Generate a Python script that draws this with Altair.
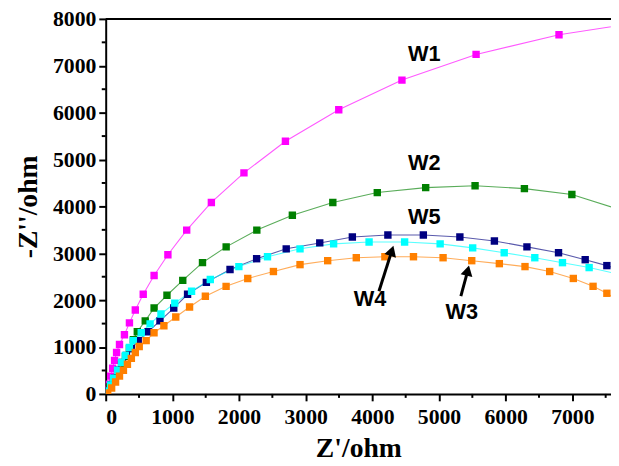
import altair as alt
import pandas as pd

# ---- data (Z' / ohm, -Z'' / ohm) ----
w1_x = [15, 44, 74, 104, 133, 163, 207, 281, 356, 444, 563, 726, 933, 1215, 1585, 2074, 2696, 3496, 4444, 5556, 6800, 7900]
w1_y = [84, 210, 379, 547, 716, 884, 1053, 1263, 1516, 1789, 2126, 2526, 2968, 3495, 4084, 4716, 5389, 6063, 6695, 7242, 7663, 7900]

w2_x = [15, 59, 119, 178, 237, 296, 356, 415, 474, 593, 726, 919, 1156, 1452, 1807, 2267, 2800, 3407, 4074, 4800, 5541, 6281, 6993, 7650]
w2_y = [42, 147, 295, 463, 632, 800, 968, 1158, 1326, 1558, 1832, 2105, 2421, 2800, 3137, 3495, 3811, 4084, 4295, 4400, 4442, 4379, 4253, 3960]

w5_x = [15, 74, 133, 192, 252, 311, 385, 488, 636, 814, 1021, 1228, 1510, 1865, 2264, 2708, 3211, 3700, 4233, 4765, 5313, 5831, 6319, 6793, 7193, 7518, 7800]
w5_y = [63, 189, 337, 505, 674, 821, 968, 1137, 1326, 1558, 1832, 2126, 2379, 2653, 2884, 3095, 3221, 3347, 3389, 3389, 3347, 3263, 3137, 3011, 2863, 2737, 2600]

w4_x = [15, 74, 118, 178, 237, 296, 355, 414, 533, 666, 829, 1036, 1288, 1569, 1998, 2427, 2915, 3419, 3951, 4484, 5017, 5505, 5978, 6437, 6852, 7252, 7640]
w4_y = [63, 189, 337, 505, 674, 821, 989, 1137, 1305, 1495, 1705, 1937, 2189, 2442, 2716, 2926, 3095, 3200, 3242, 3242, 3200, 3116, 3011, 2905, 2800, 2695, 2570]

w3_x = [30, 89, 148, 207, 266, 326, 385, 444, 503, 607, 725, 873, 1051, 1258, 1495, 1806, 2131, 2516, 2915, 3330, 3759, 4188, 4617, 5061, 5491, 5905, 6290, 6660, 7015, 7311, 7518, 7700]
w3_y = [21, 126, 253, 379, 505, 632, 758, 884, 1011, 1137, 1305, 1453, 1642, 1853, 2084, 2295, 2463, 2611, 2758, 2842, 2905, 2926, 2926, 2905, 2842, 2779, 2716, 2611, 2463, 2295, 2147, 1980]

series = ["W1", "W2", "W5", "W4", "W3"]
colors = ["#FF00FF", "#008000", "#000080", "#00FFFF", "#FF8000"]
xs = [w1_x, w2_x, w5_x, w4_x, w3_x]
ys = [w1_y, w2_y, w5_y, w4_y, w3_y]

# annotation labels (data coordinates)
label_text = ["W1", "W2", "W5", "W4", "W3"]
label_x = [4780, 4780, 4780, 3966, 5342]
label_y = [7242, 4926, 3768, 2021, 1747]

# arrows: tail -> head (data coordinates), head angle in degrees
arrow_x = [4099, 5328]
arrow_y = [2189, 2084]
arrow_x2 = [4292, 5431]
arrow_y2 = [3053, 2632]
arrow_angle = [18, 14]

x_major = [0, 1000, 2000, 3000, 4000, 5000, 6000, 7000]
x_minor = [500, 1500, 2500, 3500, 4500, 5500, 6500, 7500]
y_major = [0, 1000, 2000, 3000, 4000, 5000, 6000, 7000, 8000]
y_minor = [500, 1500, 2500, 3500, 4500, 5500, 6500, 7500]

rows = []
for s, xv, yv in zip(series, xs, ys):
    for i, (a, b) in enumerate(zip(xv, yv)):
        rows.append({"series": s, "i": i, "x": a, "y": b})
df = pd.DataFrame(rows)

W, H = 512, 380
XMAX = 7580

xscale = alt.Scale(domain=[0, XMAX], nice=False, zero=False)
yscale = alt.Scale(domain=[0, 8000], nice=False, zero=False)
color = alt.Color("series:N", scale=alt.Scale(domain=series, range=colors), legend=None)

X = alt.X("x:Q", scale=xscale,
          axis=alt.Axis(values=x_major, format="d", title="Z'/ohm", titlePadding=7, labelPadding=6))
Y = alt.Y("y:Q", scale=yscale,
          axis=alt.Axis(values=y_major, format="d", title="-Z''/ohm", titlePadding=10, labelPadding=3))

base = alt.Chart(df)
lines = base.mark_line(strokeWidth=1.1, opacity=0.65, clip=True).encode(
    x=X, y=Y, color=color, detail="series:N", order="i:Q")
points = base.mark_point(shape="square", filled=True, size=56, opacity=1, clip=True).encode(
    x="x:Q", y="y:Q", color=color)

lab_df = pd.DataFrame({"t": label_text, "x": label_x, "y": label_y})
labels = alt.Chart(lab_df).mark_text(font="Liberation Sans", fontWeight="bold",
                                      fontSize=22, color="black").encode(
    x="x:Q", y="y:Q", text="t:N")

arr_df = pd.DataFrame({"x": arrow_x, "y": arrow_y, "x2": arrow_x2, "y2": arrow_y2, "a": arrow_angle})
arrow_lines = alt.Chart(arr_df).mark_rule(strokeWidth=3, color="black").encode(
    x="x:Q", y="y:Q", x2="x2:Q", y2="y2:Q")
arrow_heads = alt.Chart(arr_df).mark_point(shape="triangle-up", filled=True, size=150,
                                            color="black", opacity=1).encode(
    x="x2:Q", y="y2:Q", angle=alt.Angle("a:Q", scale=None))

xm_df = pd.DataFrame({"x": x_minor})
x_minor_ticks = alt.Chart(xm_df).mark_rule(strokeWidth=2, color="black").encode(
    x="x:Q", y=alt.value(H), y2=alt.value(H + 4))
ym_df = pd.DataFrame({"y": y_minor})
y_minor_ticks = alt.Chart(ym_df).mark_rule(strokeWidth=2, color="black").encode(
    y="y:Q", x=alt.value(0), x2=alt.value(-4))

top_border = alt.Chart(pd.DataFrame({"y": [8000]})).mark_rule(strokeWidth=2, color="black").encode(
    y="y:Q", x=alt.value(0), x2=alt.value(W))

chart = alt.layer(
    lines, points, labels, arrow_lines, arrow_heads, x_minor_ticks, y_minor_ticks, top_border
).properties(
    width=W, height=H,
    autosize=alt.AutoSizeParams(type="none"),
    padding={"left": 99, "top": 8, "right": 0, "bottom": 70},
).configure_view(
    stroke=None
).configure_axis(
    grid=False,
    labelFont="Liberation Serif", labelFontWeight="bold", labelFontSize=22, labelColor="black",
    titleFont="Liberation Serif", titleFontWeight="bold", titleFontSize=28, titleColor="black",
    domainColor="black", domainWidth=2, tickColor="black", tickWidth=2, tickSize=7,
)

chart.save("out.html", embed_options={"renderer": "svg", "actions": False})
